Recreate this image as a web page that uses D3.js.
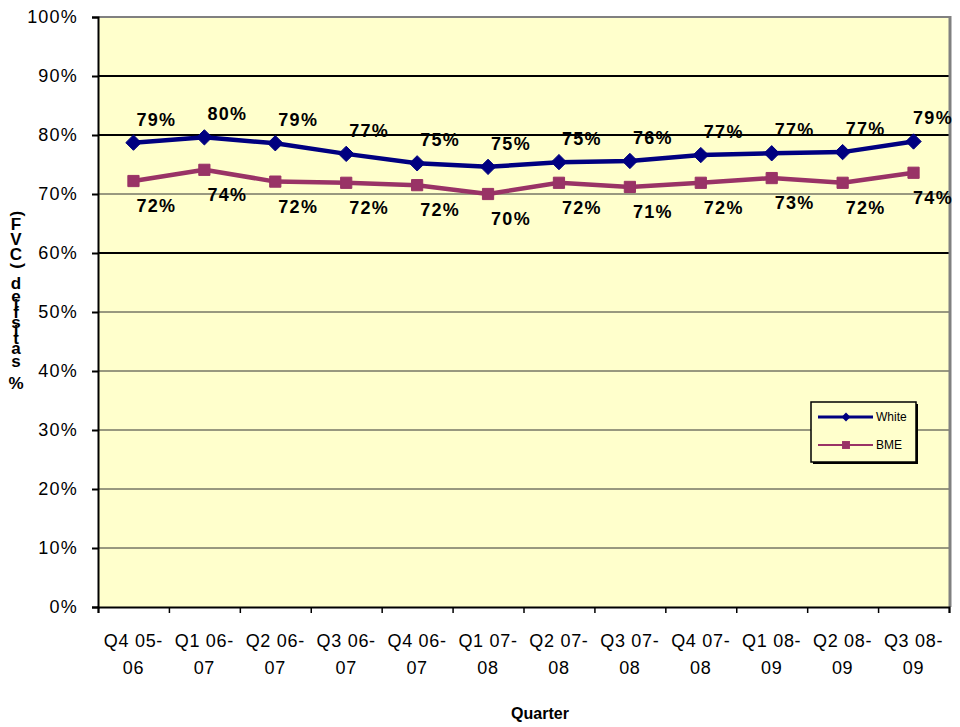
<!DOCTYPE html>
<html>
<head>
<meta charset="utf-8">
<script src="https://cdn.jsdelivr.net/npm/d3@7"></script>
<style>
  body { margin: 0; background: #fff; }
  text { font-family: Arial, "Liberation Sans", sans-serif; }
</style>
</head>
<body>
<svg id="chart" width="960" height="727"></svg>
<script>
// data
var quarters = ['Q4 05-|06', 'Q1 06-|07', 'Q2 06-|07', 'Q3 06-|07', 'Q4 06-|07', 'Q1 07-|08',
                'Q2 07-|08', 'Q3 07-|08', 'Q4 07-|08', 'Q1 08-|09', 'Q2 08-|09', 'Q3 08-|09'];
var white = [78.7, 79.6, 78.6, 76.8, 75.2, 74.6, 75.4, 75.6, 76.6, 76.9, 77.1, 78.9];
var bme   = [72.2, 74.1, 72.1, 71.9, 71.5, 70.0, 71.9, 71.2, 71.9, 72.7, 71.9, 73.6];
var yTicks = [0, 10, 20, 30, 40, 50, 60, 70, 80, 90, 100];
var yTitle = '% satisfied (CVF)';

var svg = d3.select('#chart');
var pLeft = 98, pRight = 949, pTop = 17, pBottom = 607;

var x = d3.scaleBand().domain(quarters).range([pLeft, pRight]);
var y = d3.scaleLinear().domain([0, 100]).range([pBottom, pTop]);
var xc = function(d) { return x(d) + x.bandwidth() / 2; };

// plot background
svg.append('rect')
  .attr('x', pLeft).attr('y', pTop)
  .attr('width', pRight - pLeft).attr('height', pBottom - pTop)
  .attr('fill', '#FFFFCC');

// gridlines
var major = function(d) { return d == 60 || d == 80 || d == 90; };
svg.append('g').selectAll('line')
  .data(yTicks.filter(function(t) { return t > 0 && t < 100; }))
  .enter().append('line')
  .attr('x1', pLeft).attr('x2', pRight)
  .attr('y1', function(d) { return y(d); })
  .attr('y2', function(d) { return y(d); })
  .attr('stroke', function(d) { return major(d) ? '#000' : '#333'; })
  .attr('stroke-width', function(d) { return major(d) ? 2 : 1; });

// border top / right
svg.append('line').attr('x1', pLeft).attr('x2', pRight + 1).attr('y1', pTop).attr('y2', pTop)
  .attr('stroke', '#808080').attr('stroke-width', 2);
svg.append('line').attr('x1', pRight + 1).attr('x2', pRight + 1).attr('y1', pTop - 1).attr('y2', pBottom)
  .attr('stroke', '#808080').attr('stroke-width', 3);

// y axis
var yAxis = d3.axisLeft(y).tickValues(yTicks).tickSize(6).tickPadding(14)
  .tickFormat(function(d) { return d + '%'; });
var gy = svg.append('g').attr('transform', 'translate(' + pLeft + ',0)').call(yAxis);
gy.select('.domain').attr('stroke', '#000').attr('stroke-width', 2);
gy.selectAll('.tick line').attr('stroke', '#000').attr('stroke-width', 2);
gy.selectAll('.tick text').attr('font-size', 18).attr('fill', '#000')
  .attr('letter-spacing', 1.2)
  .attr('font-family', 'Arial, "Liberation Sans", sans-serif');

// x axis (ticks at the category boundaries)
var xb = d3.scaleLinear().domain([0, quarters.length]).range([pLeft, pRight]);
var xAxis = d3.axisBottom(xb).tickValues(d3.range(quarters.length + 1)).tickSize(6).tickFormat('');
var gx = svg.append('g').attr('transform', 'translate(0,' + pBottom + ')').call(xAxis);
gx.select('.domain').attr('stroke', '#000').attr('stroke-width', 2);
gx.selectAll('.tick line').attr('stroke', '#000').attr('stroke-width', 1.5);

var xl = svg.append('g').selectAll('text').data(quarters).enter().append('text')
  .attr('text-anchor', 'middle').attr('font-size', 18).attr('letter-spacing', 0.7).attr('fill', '#000');
xl.append('tspan').attr('x', xc).attr('y', 647).text(function(d) { return d.split('|')[0]; });
xl.append('tspan').attr('x', xc).attr('y', 674).text(function(d) { return d.split('|')[1]; });

svg.append('text').attr('x', 540).attr('y', 719).attr('text-anchor', 'middle')
  .attr('font-size', 16).attr('font-weight', 'bold').text('Quarter');

// y title: glyphs stacked upward, as in the reference
var chars = yTitle.split('');
var meas = svg.append('text').attr('font-size', 17).attr('font-weight', 'bold');
var widths = chars.map(function(c) {
  meas.text(c === ' ' ? '\u00a0' : c);
  return meas.node().getComputedTextLength();
});
meas.remove();
var cum = [0];
widths.forEach(function(w, i) { cum.push(cum[i] + w); });
var ys = d3.scaleLinear().domain([0, cum[cum.length - 1]]).range([393, 210]);
var yt = svg.append('g');
chars.forEach(function(c, i) {
  var cy = ys(cum[i] + widths[i] / 2);
  var t = yt.append('text').attr('font-size', 17).attr('font-weight', 'bold')
    .attr('text-anchor', 'middle').attr('fill', '#000').text(c);
  if (c === '(' || c === ')') {
    t.attr('transform', 'translate(16,' + cy + ') rotate(-90)').attr('dy', '0.35em');
  } else {
    t.attr('x', 16).attr('y', cy).attr('dy', '0.35em');
  }
});

// series
var series = [
  { name: 'White', values: white, color: '#000080', marker: 'diamond', dy: -17 },
  { name: 'BME', values: bme, color: '#993366', marker: 'square', dy: 31 }
];
var line = d3.line().x(function(d) { return xc(d.q); }).y(function(d) { return y(d.v); });

series.forEach(function(s) {
  var pts = s.values.map(function(v, i) { return { q: quarters[i], v: v }; });
  svg.append('path').datum(pts).attr('d', line)
    .attr('fill', 'none').attr('stroke', s.color).attr('stroke-width', 4.5)
    .attr('stroke-linejoin', 'round');
  var sym = s.marker === 'diamond'
    ? d3.symbol().type(d3.symbolDiamond2).size(150)
    : d3.symbol().type(d3.symbolSquare2).size(160);
  svg.append('g').selectAll('path').data(pts).enter().append('path')
    .attr('d', sym)
    .attr('transform', function(d) { return 'translate(' + xc(d.q) + ',' + y(d.v) + ')'; })
    .attr('fill', s.color).attr('stroke', s.color).attr('stroke-width', 1);
  svg.append('g').selectAll('text').data(pts).enter().append('text')
    .attr('x', function(d) { return Math.min(xc(d.q) + 23, 933); })
    .attr('y', function(d) { return y(d.v) + s.dy; })
    .attr('text-anchor', 'middle').attr('font-size', 18).attr('font-weight', 'bold')
    .attr('letter-spacing', 1.3).attr('fill', '#000')
    .text(function(d) { return Math.round(d.v) + '%'; });
});

// legend
var lg = svg.append('g').attr('transform', 'translate(811,402)');
lg.append('rect').attr('x', 2).attr('y', 2).attr('width', 105).attr('height', 60).attr('fill', '#000');
lg.append('rect').attr('width', 105).attr('height', 60).attr('fill', '#FFFFCC')
  .attr('stroke', '#000').attr('stroke-width', 1.5);
series.forEach(function(s, i) {
  var ly = 15 + i * 28;
  lg.append('line').attr('x1', 7).attr('x2', 62).attr('y1', ly).attr('y2', ly)
    .attr('stroke', s.color).attr('stroke-width', s.marker === 'diamond' ? 3 : 2);
  lg.append('path')
    .attr('d', s.marker === 'diamond'
      ? d3.symbol().type(d3.symbolDiamond2).size(50)()
      : d3.symbol().type(d3.symbolSquare2).size(80)())
    .attr('transform', 'translate(35,' + ly + ')').attr('fill', s.color);
  lg.append('text').attr('x', 65).attr('y', ly).attr('dy', '0.35em')
    .attr('font-size', 12).attr('fill', '#000').text(s.name);
});
</script>
</body>
</html>
